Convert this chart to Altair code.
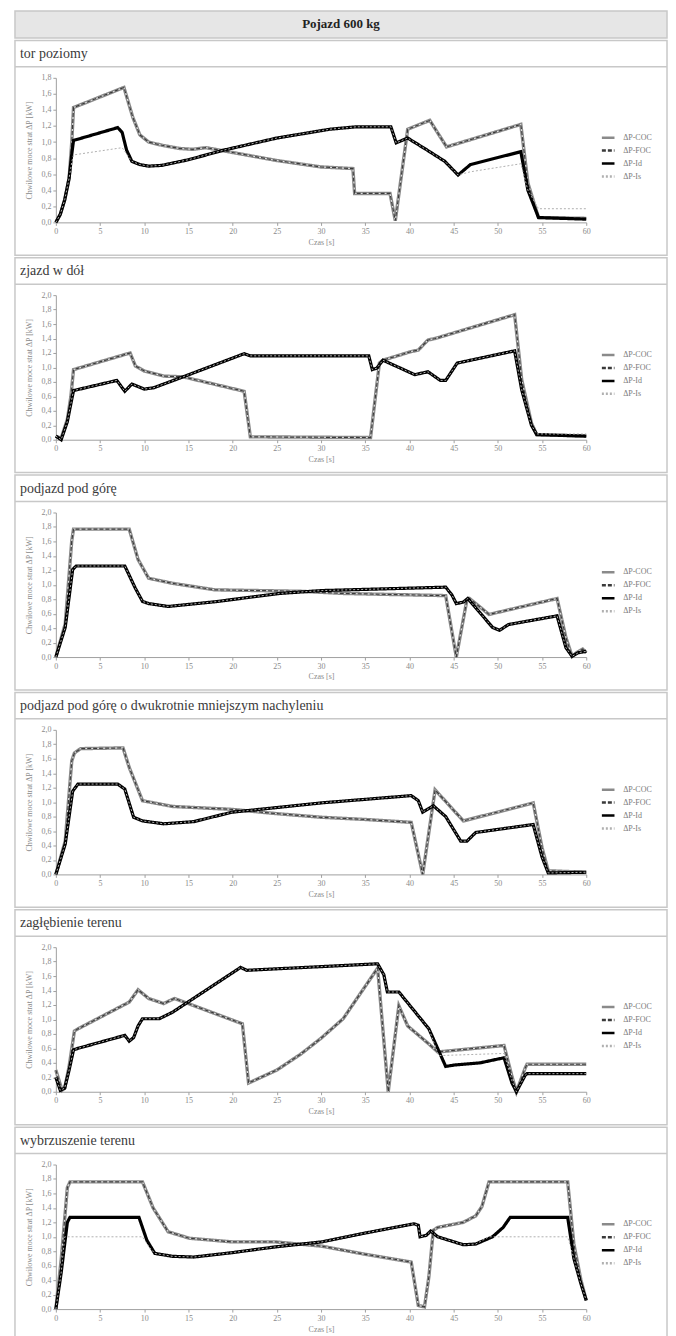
import altair as alt
import pandas as pd

FONT = "Liberation Serif, Times New Roman, DejaVu Serif, serif"
HEADER = "Pojazd 600 kg"
SERIES = ["ΔP-COC", "ΔP-FOC", "ΔP-Id", "ΔP-Is"]
SERIES_COLORS = ["#8a8a8a", "#3a3a3a", "#000000", "#b0b0b0"]
SERIES_DASHES = [[1, 0], [4, 2], [1, 0], [2, 2]]
PANEL_TITLES = [
    "tor poziomy",
    "zjazd w dół",
    "podjazd pod górę",
    "podjazd pod górę o dwukrotnie mniejszym nachyleniu",
    "zagłębienie terenu",
    "wybrzuszenie terenu",
]
X_TICKS = [0, 5, 10, 15, 20, 25, 30, 35, 40, 45, 50, 55, 60]
Y_TICKS_18 = [0.0, 0.2, 0.4, 0.6, 0.8, 1.0, 1.2, 1.4, 1.6, 1.8]
Y_TICKS_20 = [0.0, 0.2, 0.4, 0.6, 0.8, 1.0, 1.2, 1.4, 1.6, 1.8, 2.0]
X_TITLE = "Czas [s]"
Y_TITLE = "Chwilowe moce strat ΔP [kW]"

# ---- tor poziomy ----
tor_t_coc = [0, 0.5, 1.0, 1.5, 1.8, 2.0, 7.7, 8.7, 9.5, 10.5, 12, 14, 15.5, 17, 18.5, 20, 25, 30, 33.6, 33.8, 37.8, 38.4, 39.8, 42.3, 44.2, 52.6, 53.4, 54.6, 60]
tor_coc = [0, 0.1, 0.28, 0.55, 1.0, 1.43, 1.68, 1.31, 1.09, 1.0, 0.96, 0.92, 0.91, 0.93, 0.9, 0.87, 0.77, 0.69, 0.67, 0.36, 0.36, 0.02, 1.16, 1.27, 0.94, 1.22, 0.49, 0.06, 0.05]
tor_t_id = [0, 0.5, 1.0, 1.5, 1.8, 2.0, 7.0, 7.5, 8.0, 8.6, 9.5, 10.5, 12, 15, 19, 25, 31, 34, 37.9, 38.5, 39.8, 42, 44, 45.5, 46.9, 52.6, 53.4, 54.6, 60]
tor_id = [0, 0.1, 0.28, 0.55, 0.85, 1.02, 1.18, 1.12, 0.9, 0.76, 0.72, 0.70, 0.71, 0.78, 0.90, 1.05, 1.16, 1.19, 1.19, 0.99, 1.05, 0.9, 0.76, 0.59, 0.72, 0.88, 0.4, 0.06, 0.04]
tor_t_is = [0, 0.5, 1.0, 1.5, 1.8, 2.0, 7.5, 8.6, 9.5, 10.5, 12, 15, 19, 25, 31, 34, 37.9, 38.5, 39.8, 42, 44, 45.5, 46.9, 52.6, 53.4, 54.6, 60]
tor_is = [0, 0.1, 0.28, 0.55, 0.75, 0.84, 0.93, 0.76, 0.72, 0.70, 0.71, 0.78, 0.90, 1.05, 1.16, 1.19, 1.19, 0.99, 1.05, 0.9, 0.76, 0.59, 0.63, 0.73, 0.4, 0.17, 0.17]

# ---- zjazd w dół ----
zj_t_coc = [0, 0.6, 1.3, 1.7, 2.0, 8.4, 9.0, 10, 12.2, 14.4, 21.3, 22.0, 35.6, 36.6, 37.0, 40.2, 41.0, 42.1, 42.9, 51.9, 52.7, 53.8, 54.4, 60]
zj_coc = [0.05, 0.02, 0.28, 0.6, 0.97, 1.2, 1.02, 0.95, 0.88, 0.87, 0.67, 0.04, 0.03, 1.06, 1.1, 1.22, 1.24, 1.38, 1.40, 1.73, 0.83, 0.23, 0.07, 0.05]
zj_t_id = [0, 0.6, 1.3, 1.7, 2.0, 6.9, 7.8, 8.6, 10, 11.1, 14.4, 21.3, 22.0, 35.4, 35.8, 36.3, 37.0, 40.6, 42.1, 43.5, 44.1, 45.4, 51.9, 52.7, 53.8, 54.4, 60]
zj_id = [0.05, 0.0, 0.25, 0.5, 0.68, 0.82, 0.67, 0.77, 0.70, 0.72, 0.87, 1.19, 1.16, 1.16, 0.97, 0.99, 1.1, 0.90, 0.94, 0.82, 0.82, 1.06, 1.23, 0.69, 0.2, 0.07, 0.05]
zj_t_is = [0, 0.6, 1.3, 1.7, 2.0, 6.9, 7.8, 8.6, 10, 11.1, 14.4, 21.3, 22.0, 35.4, 35.8, 36.3, 37.0, 40.6, 42.1, 43.5, 44.1, 45.4, 51.9, 52.7, 53.8, 54.4, 60]
zj_is = [0.05, 0.0, 0.25, 0.5, 0.68, 0.82, 0.67, 0.77, 0.70, 0.72, 0.87, 1.19, 1.16, 1.16, 0.97, 0.99, 1.1, 0.90, 0.94, 0.82, 0.82, 1.06, 1.23, 0.69, 0.2, 0.08, 0.08]

# ---- podjazd pod górę ----
pg_t_coc = [0, 1.06, 1.8, 2.0, 8.3, 9.3, 10.5, 13.2, 18, 27.7, 32.5, 44.1, 45.3, 46.5, 46.8, 49.0, 56.7, 57.7, 58.4, 58.9, 59.6, 60]
pg_coc = [0, 0.46, 1.61, 1.77, 1.77, 1.35, 1.09, 1.02, 0.93, 0.91, 0.88, 0.85, 0.0, 0.79, 0.81, 0.59, 0.81, 0.27, 0.01, 0.06, 0.11, 0.06]
pg_t_id = [0, 1.06, 1.9, 2.3, 7.8, 9.0, 9.8, 10.5, 12.7, 18, 25.3, 30.1, 44.1, 44.8, 45.3, 46.1, 46.6, 49.4, 50.2, 51.2, 56.7, 57.7, 58.4, 59.1, 60]
pg_id = [0, 0.41, 1.21, 1.26, 1.26, 0.95, 0.77, 0.74, 0.70, 0.765, 0.88, 0.92, 0.967, 0.86, 0.74, 0.76, 0.81, 0.41, 0.37, 0.45, 0.57, 0.13, 0.01, 0.06, 0.08]

# ---- podjazd pod górę o dwukrotnie mniejszym nachyleniu ----
pd_t_coc = [0, 1.06, 1.8, 2.1, 2.8, 7.6, 8.3, 9.8, 13.2, 19.9, 25, 30.1, 35, 40.2, 41.5, 42.9, 46.1, 54.0, 55.0, 55.7, 60]
pd_coc = [0, 0.46, 1.57, 1.68, 1.74, 1.75, 1.48, 1.02, 0.94, 0.90, 0.84, 0.79, 0.76, 0.72, 0.0, 1.17, 0.74, 0.99, 0.37, 0.05, 0.03]
pd_t_id = [0, 1.06, 1.9, 2.5, 7.0, 7.8, 8.8, 9.8, 12.2, 15.6, 19.9, 30.1, 40.2, 41.0, 41.5, 42.7, 44.1, 45.8, 46.5, 47.5, 54.0, 55.0, 55.7, 60]
pd_id = [0, 0.42, 1.15, 1.25, 1.25, 1.18, 0.79, 0.74, 0.70, 0.73, 0.86, 0.99, 1.09, 1.02, 0.86, 0.95, 0.80, 0.46, 0.46, 0.58, 0.69, 0.24, 0.02, 0.03]

# ---- zagłębienie terenu ----
zg_t_coc = [0, 0.7, 1.0, 1.5, 2.1, 2.5, 8.3, 9.3, 10.5, 12.2, 13.4, 14.1, 21.1, 21.8, 25, 27.7, 30, 32.5, 35.9, 36.4, 37.6, 38.8, 39.8, 42.2, 43.2, 50.7, 51.6, 52.1, 53.1, 53.3, 60]
zg_coc = [0.3, 0.02, 0.05, 0.35, 0.84, 0.87, 1.24, 1.41, 1.29, 1.22, 1.29, 1.26, 0.94, 0.12, 0.3, 0.52, 0.74, 1.01, 1.62, 1.71, 0.0, 1.19, 0.91, 0.66, 0.55, 0.64, 0.21, 0.0, 0.33, 0.38, 0.38]
zg_t_id = [0, 0.5, 1.0, 1.5, 2.0, 2.5, 7.8, 8.3, 8.8, 9.3, 9.8, 11.7, 13.2, 20.9, 21.6, 36.4, 37.1, 37.5, 38.8, 40, 42.2, 44.1, 45.1, 48, 50.7, 51.6, 52.1, 53.1, 53.3, 60]
zg_id = [0.2, 0.02, 0.05, 0.3, 0.58, 0.6, 0.78, 0.70, 0.75, 0.91, 1.01, 1.01, 1.1, 1.72, 1.68, 1.77, 1.62, 1.38, 1.38, 1.2, 0.87, 0.35, 0.37, 0.40, 0.47, 0.12, 0.0, 0.23, 0.25, 0.25]
zg_t_is = [0, 0.5, 1.0, 1.5, 2.0, 2.5, 7.8, 8.3, 8.8, 9.3, 9.8, 11.7, 13.2, 20.9, 21.6, 36.4, 37.1, 37.5, 38.8, 40, 42.2, 43.3, 50.7, 51.6, 52.1, 53.1, 53.3, 60]
zg_is = [0.2, 0.02, 0.05, 0.3, 0.58, 0.6, 0.78, 0.70, 0.75, 0.91, 1.01, 1.01, 1.1, 1.72, 1.68, 1.77, 1.62, 1.38, 1.38, 1.2, 0.87, 0.5, 0.53, 0.15, 0.0, 0.23, 0.25, 0.25]

# ---- wybrzuszenie terenu ----
wb_t_coc = [0, 0.6, 1.3, 1.6, 9.8, 11.0, 12.7, 15.1, 19.9, 24.8, 30.1, 34.9, 40.2, 41.0, 41.7, 42.2, 42.7, 43.2, 46.1, 47.5, 48.2, 49.0, 57.9, 58.6, 59.4, 60]
wb_coc = [0, 0.68, 1.68, 1.76, 1.76, 1.4, 1.07, 0.98, 0.93, 0.93, 0.87, 0.76, 0.65, 0.05, 0.03, 0.45, 1.09, 1.13, 1.2, 1.29, 1.42, 1.76, 1.76, 0.9, 0.4, 0.12]
wb_t_id = [0, 0.6, 1.3, 1.6, 9.4, 10.3, 11.2, 13.2, 15.6, 19.9, 24.8, 30.1, 34.9, 40.5, 41.0, 41.2, 41.9, 42.4, 43.2, 46.1, 47.5, 49.4, 50.6, 51.4, 57.9, 58.6, 59.4, 60]
wb_id = [0, 0.5, 1.2, 1.27, 1.27, 0.95, 0.77, 0.73, 0.72, 0.78, 0.86, 0.93, 1.05, 1.18, 1.16, 1.0, 1.02, 1.08, 1.0, 0.89, 0.9, 1.0, 1.13, 1.27, 1.27, 0.7, 0.35, 0.12]
wb_t_is = [0, 0.6, 1.0, 9.8, 10.6, 11.2, 13.2, 15.6, 19.9, 24.8, 30.1, 34.9, 40.5, 41.0, 41.2, 41.9, 42.4, 43.2, 46.1, 47.5, 49.0, 57.9, 58.6, 59.4, 60]
wb_is = [0, 0.5, 1.0, 1.0, 0.85, 0.77, 0.73, 0.72, 0.78, 0.86, 0.93, 1.05, 1.18, 1.16, 1.0, 1.02, 1.08, 1.0, 0.89, 0.9, 1.0, 1.0, 0.7, 0.35, 0.12]

PANELS = [
    (tor_t_coc, tor_coc, tor_t_id, tor_id, tor_t_is, tor_is, Y_TICKS_18),
    (zj_t_coc, zj_coc, zj_t_id, zj_id, zj_t_is, zj_is, Y_TICKS_20),
    (pg_t_coc, pg_coc, pg_t_id, pg_id, pg_t_id, pg_id, Y_TICKS_20),
    (pd_t_coc, pd_coc, pd_t_id, pd_id, pd_t_id, pd_id, Y_TICKS_20),
    (zg_t_coc, zg_coc, zg_t_id, zg_id, zg_t_is, zg_is, Y_TICKS_20),
    (wb_t_coc, wb_coc, wb_t_id, wb_id, wb_t_is, wb_is, Y_TICKS_20),
]

rows = []
for p, (tc, vc, ti, vi, ts, vs, _) in enumerate(PANELS):
    for name, tt, vv in ((SERIES[0], tc, vc), (SERIES[1], tc, vc), (SERIES[2], ti, vi), (SERIES[3], ts, vs)):
        for k, (t, v) in enumerate(zip(tt, vv)):
            rows.append({"p": p, "s": name, "i": k, "t": t, "v": v})
df = pd.DataFrame(rows)
one = pd.DataFrame({"k": [0]})

BORDER = "#c8c8c8"
LEFT, RIGHT = -41, 613


def section(p):
    yt = PANELS[p][6]
    d = df[df.p == p]
    x = alt.X("t:Q", scale=alt.Scale(domain=[0, 60], nice=False, zero=False),
              axis=alt.Axis(values=X_TICKS, title=X_TITLE, labelFlush=False, titlePadding=3))
    y = alt.Y("v:Q", scale=alt.Scale(domain=[0, yt[-1]], nice=False),
              axis=alt.Axis(values=yt, title=Y_TITLE, titlePadding=7,
                            labelExpr="replace(format(datum.value, '.1f'), '.', ',')"))
    leg = alt.Legend(title=None, orient="none", legendX=546, legendY=52, symbolType="stroke",
                     symbolSize=160, symbolStrokeWidth=2.5, labelFont=FONT, labelFontSize=8,
                     labelColor="#7a7a7a", rowPadding=0, labelOffset=7)
    color = alt.Color("s:N", scale=alt.Scale(domain=SERIES, range=SERIES_COLORS), legend=leg)
    dash = alt.StrokeDash("s:N", scale=alt.Scale(domain=SERIES, range=SERIES_DASHES), legend=leg)
    base = alt.Chart(d).encode(x=x, y=y, order=alt.Order("i:Q"))
    coc = base.transform_filter(alt.datum.s == SERIES[0]).mark_line(strokeWidth=3.4).encode(color=color, strokeDash=dash)
    coc_in = base.transform_filter(alt.datum.s == SERIES[0]).mark_line(strokeWidth=1.0, color="#e2e2e2")
    foc = base.transform_filter(alt.datum.s == SERIES[1]).mark_line(strokeWidth=1.2).encode(color=color, strokeDash=dash)
    idl = base.transform_filter(alt.datum.s == SERIES[2]).mark_line(strokeWidth=3.2).encode(color=color, strokeDash=dash)
    isl = base.transform_filter(alt.datum.s == SERIES[3]).mark_line(strokeWidth=1.0).encode(color=color, strokeDash=dash)

    frame = alt.Chart(one).mark_rect(fillOpacity=0, stroke=BORDER, strokeWidth=1.5).encode(
        x=alt.value(LEFT), x2=alt.value(RIGHT), y=alt.value(-37.5), y2=alt.value(178))
    sep = alt.Chart(one).mark_rule(stroke=BORDER, strokeWidth=1.5).encode(
        x=alt.value(LEFT), x2=alt.value(RIGHT), y=alt.value(-11))
    ttl = alt.Chart(one).mark_text(align="left", baseline="middle", font=FONT, fontSize=14, color="#3a3a3a").encode(
        x=alt.value(-36), y=alt.value(-24), text=alt.value(PANEL_TITLES[p]))
    return alt.layer(frame, sep, ttl, coc, coc_in, foc, idl, isl).properties(width=532, height=145)


header = alt.layer(
    alt.Chart(one).mark_rect(fill="#e6e6e6", stroke=BORDER, strokeWidth=1.5).encode(
        x=alt.value(LEFT), x2=alt.value(RIGHT), y=alt.value(0), y2=alt.value(27)),
    alt.Chart(one).mark_text(font=FONT, fontSize=13, fontWeight="bold", color="#222222",
                             align="center", baseline="middle").encode(
        x=alt.value(286), y=alt.value(13.5), text=alt.value(HEADER)),
).properties(width=532, height=27)

chart = alt.vconcat(header, *[section(p) for p in range(6)], spacing=0).resolve_scale(
    color="independent", strokeDash="independent"
).resolve_legend(color="independent", strokeDash="independent").properties(
    padding={"left": 6, "top": 0, "right": 0, "bottom": 0}
).configure_view(strokeWidth=0).configure_axis(
    labelFont=FONT, labelFontSize=8, labelColor="#8a8a8a", titleFont=FONT, titleFontSize=8,
    titleFontWeight="normal", titleColor="#8a8a8a", domainColor="#a0a0a0", tickColor="#a0a0a0",
    tickSize=3, grid=False, labelPadding=2
)

chart.save("out.html", embed_options={"renderer": "svg", "actions": False})
